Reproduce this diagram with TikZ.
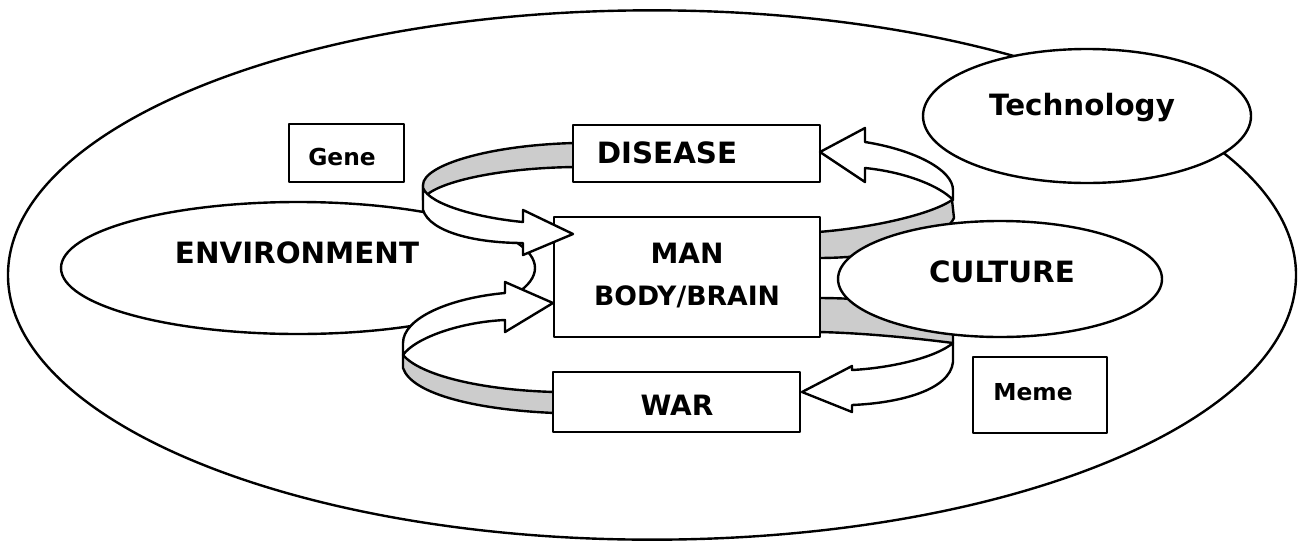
\documentclass[tikz,border=0pt]{standalone}
\usepackage{fontspec}
\setmainfont{DejaVu Sans}
\usetikzlibrary{shapes.geometric}
\begin{document}
\begin{tikzpicture}[x=0.75pt,y=-0.75pt,
  line width=1.8pt, line join=round,
  oval/.style={ellipse, draw, fill=white, inner sep=0pt},
  boxnode/.style={rectangle, draw, fill=white, inner sep=0pt},
  bigtxt/.style={font=\fontsize{22}{26}\selectfont\bfseries, inner sep=0pt, anchor=base},
  midtxt/.style={font=\fontsize{21}{25}\selectfont\bfseries, inner sep=0pt, anchor=base},
  bbtxt/.style={font=\fontsize{20}{24}\selectfont\bfseries, inner sep=0pt, anchor=base},
  smalltxt/.style={font=\fontsize{17.5}{21}\selectfont\bfseries, inner sep=0pt, anchor=base},
  backpart/.style={draw, fill=black!20},
  frontpart/.style={draw, fill=white}]
\fill[white] (0,0) rectangle (1298,550);
\useasboundingbox (0,0) rectangle (1298,550);

% outer world ellipse
\node[oval, minimum width=966pt, minimum height=397pt] (world) at (652,275) {};
% technology
\node[oval, minimum width=246pt, minimum height=100.5pt] (tech) at (1087,116) {};
\node[bigtxt] (techt) at (1082,115) {Technology};
% environment
\node[oval, minimum width=355.5pt, minimum height=99pt] (env) at (298,268) {};
\node[bigtxt] (envt) at (297,263) {ENVIRONMENT};

% gene and meme
\node[boxnode, minimum width=86.25pt, minimum height=43.5pt] (gene) at (346.5,153) {};
\node[smalltxt] (genet) at (342,165) {Gene};
\node[boxnode, minimum width=100.5pt, minimum height=57pt] (meme) at (1040,395) {};
\node[smalltxt] (memet) at (1033,400) {Meme};

% back (shaded) parts of the ribbon arrows
\draw[backpart] (575,143) .. controls (490,145) and (423,165) .. (423,185) -- (423,200) .. controls (428,185) and (490,168) .. (575,167) -- cycle;
\draw[backpart] (818,232) .. controls (870,228) and (930,215) .. (952,200) -- (954,218) .. controls (940,245) and (880,258) .. (818,258) -- cycle;
\draw[backpart] (818,298) .. controls (870,298) and (953,305) .. (953,325) -- (953,343) .. controls (930,340) and (870,333) .. (818,332) -- cycle;
\draw[backpart] (403,355) -- (403,368) .. controls (412,395) and (480,410) .. (555,413) -- (555,392) .. controls (480,390) and (420,375) .. (403,355) -- cycle;

% central boxes
\node[boxnode, minimum width=185.25pt, minimum height=42.75pt] (disease) at (696.5,153.5) {};
\node[boxnode, minimum width=199.5pt, minimum height=90pt] (man) at (687,277) {};
\node[boxnode, minimum width=185.25pt, minimum height=45pt] (war) at (676.5,402) {};

% front (white) parts with arrow heads
\draw[frontpart] (423,185) -- (423,210) .. controls (430,232) and (475,243) .. (523,243) -- (523,255) -- (573,234) -- (523,210) -- (523,222) .. controls (480,218) and (430,205) .. (423,188) -- cycle;
\draw[frontpart] (865,142) .. controls (915,150) and (953,170) .. (953,190) -- (953,200) .. controls (940,186) and (905,172) .. (865,168) -- (865,182) -- (820,152) -- (865,128) -- cycle;
\draw[frontpart] (953,343) -- (953,362) .. controls (950,390) and (900,403) .. (852,405) -- (852,412) -- (802,392) -- (852,366) -- (852,370) .. controls (890,368) and (935,358) .. (953,343) -- cycle;
\draw[frontpart] (505,293) .. controls (450,298) and (403,318) .. (403,343) -- (403,355) .. controls (415,338) and (460,322) .. (505,320) -- (505,332) -- (553,303) -- (505,282) -- cycle;

% culture
\node[oval, minimum width=243pt, minimum height=87pt] (culture) at (1000,279) {};
\node[bigtxt] (culturet) at (1002,282) {CULTURE};

% box labels
\node[bigtxt] (diseaset) at (667,163) {DISEASE};
\node[midtxt] (mant) at (687,263) {MAN};
\node[bbtxt] (bbt) at (687,305) {BODY/BRAIN};
\node[midtxt] (wart) at (677,415) {WAR};
\end{tikzpicture}
\end{document}
